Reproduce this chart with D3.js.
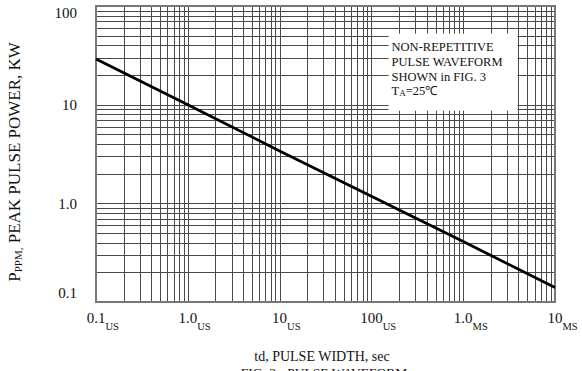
<!DOCTYPE html>
<html>
<head>
<meta charset="utf-8">
<script src="https://cdn.jsdelivr.net/npm/d3@7"></script>
<style>
  body { margin: 0; background: #fff; }
  text { font-family: "Liberation Serif", "Times New Roman", serif; fill: #111; }
</style>
</head>
<body>
<div id="chart"></div>
<script>
// pulse width in microseconds, peak pulse power in kW
var pulseWidth = [0.1, 1, 10, 100, 1000, 10000]
var peakPower = [29, 10, 3.4, 1.18, 0.41, 0.14]

var xTickValues = [0.1, 1, 10, 100, 1000, 10000]
var xTickNums = ["0.1", "1.0", "10", "100", "1.0", "10"]
var xTickUnits = ["US", "US", "US", "US", "MS", "MS"]

var yTickValues = [100, 10, 1, 0.1]
var yTickLabels = ["100", "10", "1.0", "0.1"]

var noteLines = ["NON-REPETITIVE", "PULSE WAVEFORM", "SHOWN in FIG. 3"]

var dimensions = {
    width: 582,
    height: 371,
    margin: {top: 6, right: 27, bottom: 69, left: 96}
}
var plotW = dimensions.width - dimensions.margin.left - dimensions.margin.right
var plotH = dimensions.height - dimensions.margin.top - dimensions.margin.bottom

var svg = d3.select("#chart")
    .append("svg")
    .attr("width", dimensions.width)
    .attr("height", dimensions.height)

var g = svg.append("g")
    .attr("transform", `translate(${dimensions.margin.left},${dimensions.margin.top})`)

var x = d3.scaleLog().domain([0.1, 10000]).range([0, plotW])
var y = d3.scaleLog().domain([0.1, 100]).range([plotH, 0])

//grid
g.append("g")
    .selectAll("line")
    .data(x.ticks())
    .enter()
    .append("line")
    .attr("x1", d => Math.round(x(d)) + 0.5)
    .attr("x2", d => Math.round(x(d)) + 0.5)
    .attr("y1", 0)
    .attr("y2", plotH)
    .style("stroke", "#4a4a4a")
    .style("stroke-width", 1)

g.append("g")
    .selectAll("line")
    .data(y.ticks())
    .enter()
    .append("line")
    .attr("x1", 0)
    .attr("x2", plotW)
    .attr("y1", d => Math.round(y(d)) + 0.5)
    .attr("y2", d => Math.round(y(d)) + 0.5)
    .style("stroke", "#4a4a4a")
    .style("stroke-width", 1)

//border
g.append("rect")
    .attr("x", 0)
    .attr("y", 0)
    .attr("width", plotW)
    .attr("height", plotH)
    .style("fill", "none")
    .style("stroke", "#777")
    .style("stroke-width", 2)

//curve
var line = d3.line()
    .x((d, i) => x(pulseWidth[i]))
    .y(d => y(d))

g.append("path")
    .datum(peakPower)
    .attr("d", line)
    .style("fill", "none")
    .style("stroke", "#000")
    .style("stroke-width", 2.8)

//note box
var boxX = x(170) - 4, boxY = y(50) - 2
var note = g.append("g")
note.append("rect")
    .attr("x", boxX)
    .attr("y", boxY)
    .attr("width", 129)
    .attr("height", 77)
    .style("fill", "#fff")

noteLines.forEach((t, i) => {
    note.append("text")
        .attr("x", boxX + 3)
        .attr("y", boxY + 17 + i * 14.9)
        .attr("font-size", "12.5px")
        .text(t)
})
var ta = note.append("text")
    .attr("x", boxX + 3)
    .attr("y", boxY + 17 + 3 * 14.9)
    .attr("font-size", "12.5px")
ta.append("tspan").text("T")
ta.append("tspan").attr("font-size", "9px").attr("dy", 1).text("A")
ta.append("tspan").attr("dy", -1).text("=25\u2103")

//y tick labels
g.append("g")
    .selectAll("text")
    .data(yTickValues)
    .enter()
    .append("text")
    .attr("x", -19)
    .attr("y", d => Math.min(Math.max(y(d), 7), plotH - 9))
    .attr("dy", "0.35em")
    .attr("text-anchor", "end")
    .attr("font-size", "15px")
    .text((d, i) => yTickLabels[i])

//x tick labels: number centred on tick, unit as subscript
xTickValues.forEach((v, i) => {
    var num = g.append("text")
        .attr("x", x(v))
        .attr("y", plotH + 21)
        .attr("text-anchor", "middle")
        .attr("font-size", "15px")
        .text(xTickNums[i])
    var w = num.node().getComputedTextLength()
    g.append("text")
        .attr("x", x(v) + w / 2)
        .attr("y", plotH + 28)
        .attr("font-size", "10.5px")
        .text(xTickUnits[i])
})

//axis titles
var yt = svg.append("text")
    .attr("transform", `translate(20,${dimensions.margin.top + plotH / 2 + 8}) rotate(-90)`)
    .attr("text-anchor", "middle")
    .attr("font-size", "17px")
yt.append("tspan").text("P")
yt.append("tspan").attr("font-size", "11px").attr("dy", 2).text("PPM,")
yt.append("tspan").attr("dy", -2).text(" PEAK PULSE POWER, KW")

svg.append("text")
    .attr("x", 322)
    .attr("y", 361)
    .attr("text-anchor", "middle")
    .attr("font-size", "14px")
    .text("td, PULSE WIDTH, sec")

svg.append("text")
    .attr("x", 324)
    .attr("y", 377)
    .attr("text-anchor", "middle")
    .attr("font-size", "13.5px")
    .text("FIG. 3 - PULSE WAVEFORM")
</script>
</body>
</html>
